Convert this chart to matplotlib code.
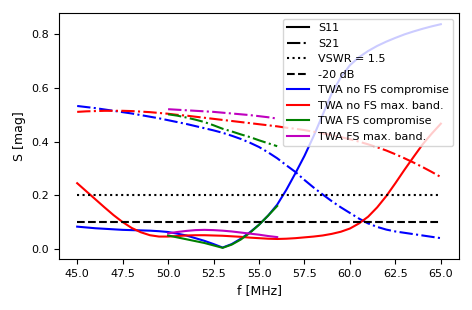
import numpy as np
import matplotlib
matplotlib.use("Agg")
import matplotlib.pyplot as plt
from matplotlib.lines import Line2D

plt.rcParams['font.size'] = 8

# frequencies (MHz)
f_nofs = np.arange(45.0, 65.01, 0.5)
f_fs = np.arange(50.0, 56.01, 0.5)

# TWA no FS compromise (blue)
s11_nofs_comp = [0.083, 0.080, 0.077, 0.075, 0.073, 0.071, 0.070, 0.069, 0.068, 0.066, 0.063,
                 0.057, 0.050, 0.040, 0.030, 0.018, 0.005, 0.018, 0.038, 0.062, 0.090, 0.124,
                 0.165, 0.220, 0.282, 0.347, 0.420, 0.500, 0.580, 0.640, 0.685, 0.715, 0.738,
                 0.757, 0.773, 0.787, 0.800, 0.811, 0.821, 0.830, 0.838]
s21_nofs_comp = [0.533, 0.529, 0.525, 0.520, 0.515, 0.510, 0.505, 0.499, 0.493, 0.487, 0.480,
                 0.473, 0.466, 0.458, 0.450, 0.442, 0.433, 0.422, 0.410, 0.396, 0.380, 0.360,
                 0.338, 0.312, 0.287, 0.257, 0.229, 0.203, 0.178, 0.155, 0.134, 0.113, 0.095,
                 0.082, 0.072, 0.065, 0.060, 0.055, 0.050, 0.045, 0.040]

# TWA no FS max. band. (red)
s11_nofs_max = [0.245, 0.215, 0.185, 0.155, 0.126, 0.100, 0.078, 0.062, 0.051, 0.046, 0.046,
                0.048, 0.050, 0.051, 0.051, 0.050, 0.049, 0.047, 0.045, 0.042, 0.040, 0.038,
                0.037, 0.038, 0.040, 0.043, 0.046, 0.050, 0.056, 0.064, 0.076, 0.095, 0.120,
                0.155, 0.197, 0.245, 0.295, 0.343, 0.390, 0.430, 0.467]
s21_nofs_max = [0.511, 0.513, 0.514, 0.515, 0.515, 0.515, 0.514, 0.512, 0.510, 0.507, 0.504,
                0.500, 0.497, 0.493, 0.489, 0.485, 0.481, 0.477, 0.473, 0.469, 0.465, 0.461,
                0.457, 0.452, 0.448, 0.443, 0.437, 0.431, 0.424, 0.417, 0.409, 0.400, 0.390,
                0.379, 0.367, 0.353, 0.338, 0.322, 0.305, 0.287, 0.268]

# TWA FS compromise (green)
s11_fs_comp = [0.050, 0.043, 0.036, 0.029, 0.022, 0.013, 0.004, 0.016, 0.035, 0.060, 0.090,
               0.124, 0.160]
s21_fs_comp = [0.502, 0.497, 0.490, 0.482, 0.473, 0.461, 0.448, 0.438, 0.427, 0.417, 0.405,
               0.394, 0.383]

# TWA FS max. band. (magenta)
s11_fs_max = [0.058, 0.063, 0.067, 0.070, 0.071, 0.070, 0.068, 0.065, 0.061, 0.057, 0.053,
              0.048, 0.044]
s21_fs_max = [0.521, 0.519, 0.517, 0.515, 0.513, 0.511, 0.508, 0.505, 0.502, 0.499, 0.495,
              0.491, 0.486]

vswr_level = 0.2      # VSWR = 1.5
db20_level = 0.1      # -20 dB

fig = plt.figure(figsize=(4.72, 3.10), dpi=100)
ax = fig.add_axes([0.125, 0.1645, 0.8475, 0.7935])

ax.plot(f_nofs, s11_nofs_comp, 'b-')
ax.plot(f_nofs, s21_nofs_comp, 'b-.')
ax.plot(f_nofs, s11_nofs_max, 'r-')
ax.plot(f_nofs, s21_nofs_max, 'r-.')
ax.plot(f_fs, s11_fs_comp, 'g-')
ax.plot(f_fs, s21_fs_comp, 'g-.')
ax.plot(f_fs, s11_fs_max, 'm-')
ax.plot(f_fs, s21_fs_max, 'm-.')
ax.plot([f_nofs[0], f_nofs[-1]], [vswr_level, vswr_level], 'k:')
ax.plot([f_nofs[0], f_nofs[-1]], [db20_level, db20_level], 'k--')

handles = [
    Line2D([], [], color='k', ls='-', label='S11'),
    Line2D([], [], color='k', ls='-.', label='S21'),
    Line2D([], [], color='k', ls=':', label='VSWR = 1.5'),
    Line2D([], [], color='k', ls='--', label='-20 dB'),
    Line2D([], [], color='b', ls='-', label='TWA no FS compromise'),
    Line2D([], [], color='r', ls='-', label='TWA no FS max. band.'),
    Line2D([], [], color='g', ls='-', label='TWA FS compromise'),
    Line2D([], [], color='m', ls='-', label='TWA FS max. band.'),
]
ax.legend(handles=handles, loc='upper right')

ax.set_xticks([45.0, 47.5, 50.0, 52.5, 55.0, 57.5, 60.0, 62.5, 65.0])
ax.set_xlabel('f [MHz]', fontsize=9)
ax.set_ylabel('S [mag]', fontsize=9)

fig.savefig('out.png', dpi=100)
